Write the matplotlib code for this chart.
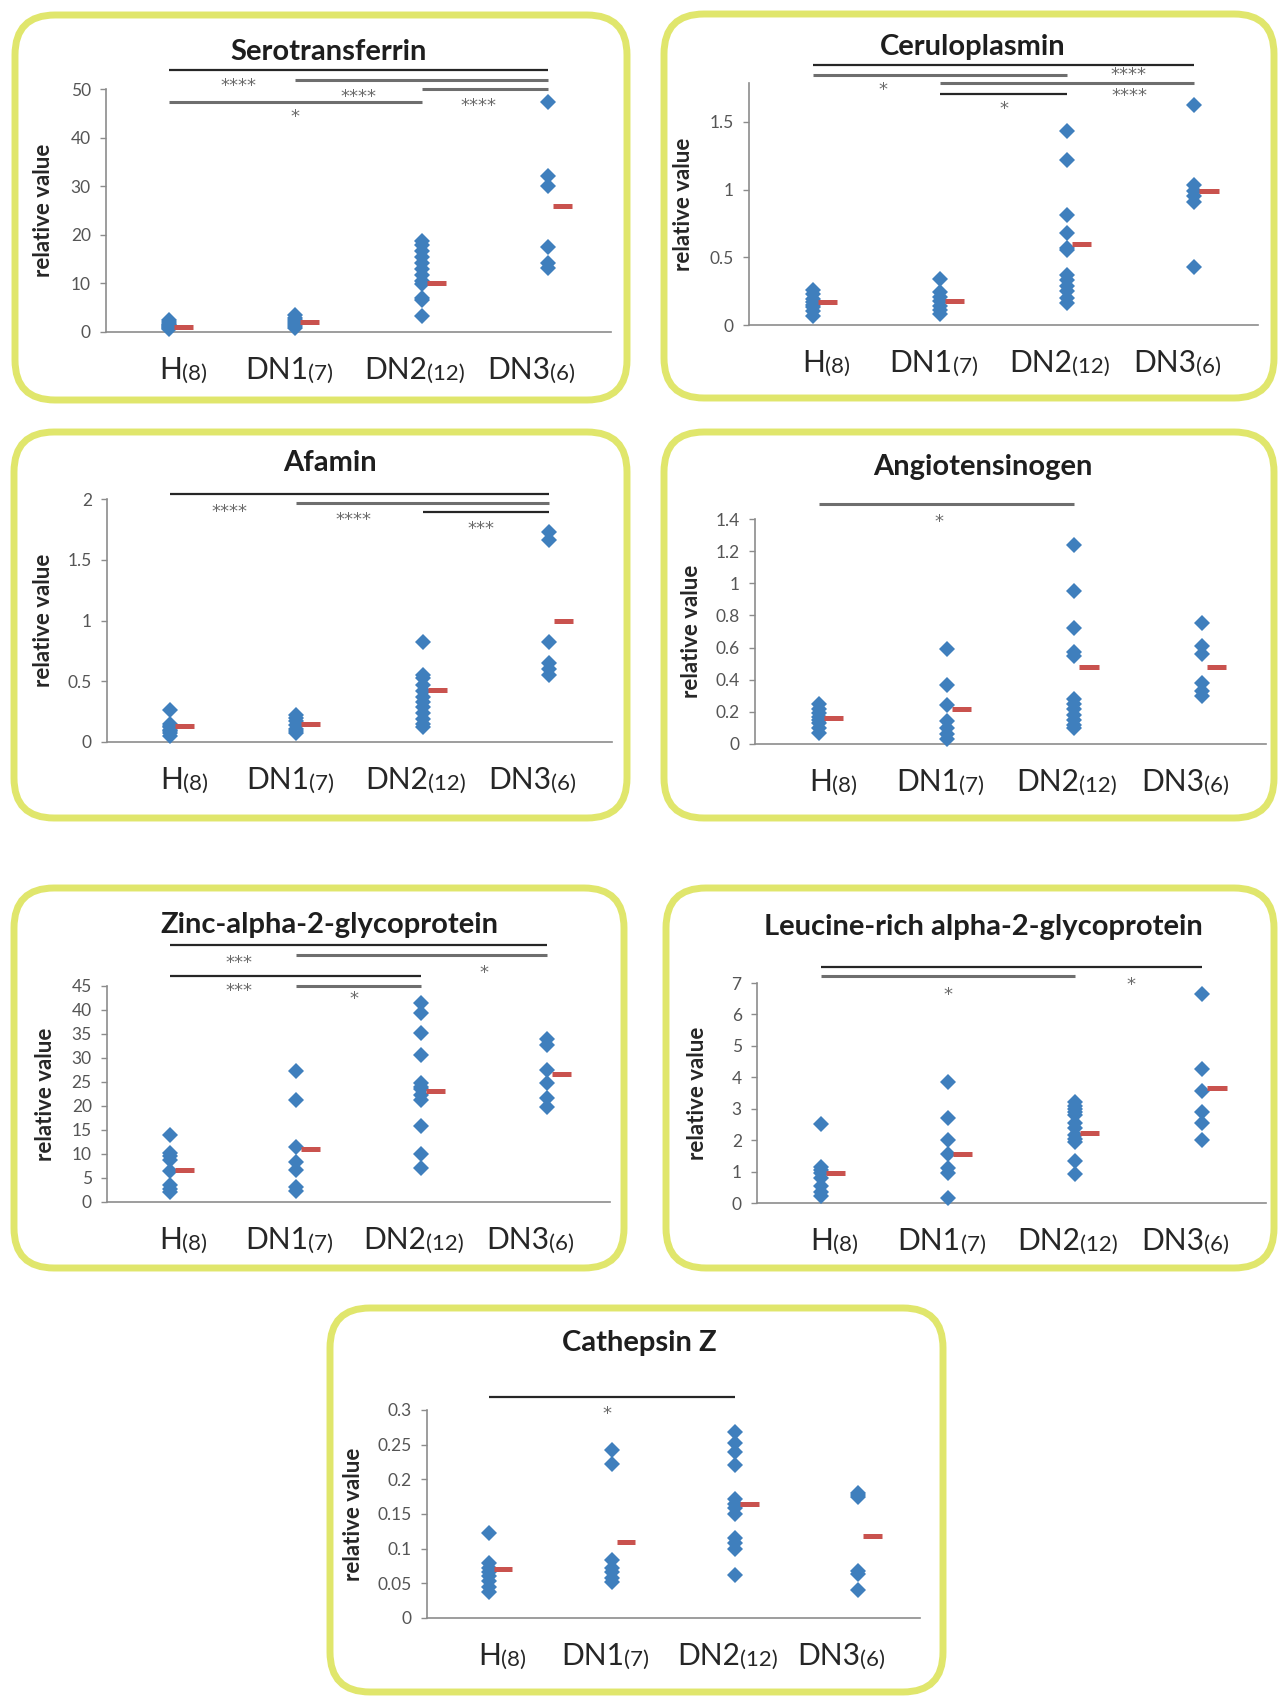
import numpy as np
import matplotlib.pyplot as plt
from matplotlib.patches import FancyBboxPatch

plt.rcParams['font.family'] = ['Lato', 'DejaVu Sans']

W, H = 1284, 1696

groups = ['H', 'DN1', 'DN2', 'DN3']
group_n = ['(8)', '(7)', '(12)', '(6)']

# values per group (H, DN1, DN2, DN3)
serotransferrin = [
    [0.7, 0.9, 1.0, 1.2, 1.4, 1.7, 2.0, 2.5],
    [0.8, 1.2, 1.6, 2.0, 2.4, 2.9, 3.5],
    [3.2, 6.5, 7.0, 9.8, 10.5, 11.8, 13.0, 14.2, 15.5, 16.6, 17.8, 18.8],
    [13.2, 14.2, 17.5, 30.0, 32.0, 47.3],
]
serotransferrin_mean = [1.1, 2.0, 10.0, 25.9]
serotransferrin_sig = [(0, 3, '****'), (1, 3, '****'), (2, 3, '****'), (0, 2, '*')]

ceruloplasmin = [
    [0.07, 0.10, 0.13, 0.15, 0.17, 0.19, 0.23, 0.26],
    [0.08, 0.11, 0.14, 0.18, 0.21, 0.24, 0.34],
    [0.16, 0.20, 0.25, 0.29, 0.33, 0.37, 0.55, 0.57, 0.68, 0.81, 1.22, 1.43],
    [0.43, 0.91, 0.95, 0.99, 1.03, 1.62],
]
ceruloplasmin_mean = [0.17, 0.18, 0.60, 0.99]
ceruloplasmin_sig = [(0, 3, '****'), (0, 2, '*'), (1, 3, '****'), (1, 2, '*')]

afamin = [
    [0.05, 0.07, 0.09, 0.10, 0.12, 0.13, 0.15, 0.26],
    [0.07, 0.09, 0.11, 0.14, 0.17, 0.20, 0.22],
    [0.12, 0.15, 0.19, 0.24, 0.29, 0.33, 0.37, 0.42, 0.47, 0.53, 0.55, 0.82],
    [0.55, 0.60, 0.65, 0.82, 1.66, 1.73],
]
afamin_mean = [0.13, 0.15, 0.43, 1.0]
afamin_sig = [(0, 3, '****'), (1, 3, '****'), (2, 3, '***')]

angiotensinogen = [
    [0.07, 0.10, 0.13, 0.15, 0.17, 0.19, 0.22, 0.25],
    [0.03, 0.06, 0.10, 0.14, 0.24, 0.37, 0.59],
    [0.10, 0.12, 0.15, 0.18, 0.22, 0.25, 0.28, 0.55, 0.57, 0.72, 0.95, 1.24],
    [0.30, 0.33, 0.38, 0.56, 0.61, 0.75],
]
angiotensinogen_mean = [0.16, 0.215, 0.48, 0.48]
angiotensinogen_sig = [(0, 2, '*')]

zinc_a2g = [
    [2.0, 2.8, 3.5, 6.5, 8.8, 9.5, 10.3, 14.0],
    [2.3, 3.1, 6.6, 8.3, 11.5, 21.3, 27.3],
    [7.0, 10.0, 15.8, 21.2, 22.3, 23.5, 24.0, 24.8, 30.6, 35.3, 39.4, 41.5],
    [19.8, 21.6, 24.7, 27.5, 32.7, 33.9],
]
zinc_a2g_mean = [6.7, 11.0, 23.2, 26.6]
zinc_a2g_sig = [(0, 3, '***'), (1, 3, '*'), (0, 2, '***'), (1, 2, '*')]

leucine_a2g = [
    [0.22, 0.35, 0.55, 0.80, 0.95, 1.05, 1.15, 2.50],
    [0.16, 0.95, 1.10, 1.55, 2.00, 2.70, 3.85],
    [0.92, 1.35, 1.95, 2.05, 2.15, 2.40, 2.55, 2.80, 2.90, 3.00, 3.10, 3.22],
    [2.00, 2.55, 2.88, 3.55, 4.27, 6.66],
]
leucine_a2g_mean = [0.97, 1.55, 2.22, 3.65]
leucine_a2g_sig = [(0, 3, '*'), (0, 2, '*')]

cathepsin_z = [
    [0.038, 0.045, 0.054, 0.060, 0.066, 0.072, 0.080, 0.123],
    [0.052, 0.058, 0.066, 0.072, 0.084, 0.222, 0.243],
    [0.062, 0.100, 0.108, 0.115, 0.150, 0.158, 0.165, 0.172, 0.220, 0.240, 0.252, 0.268],
    [0.041, 0.064, 0.068, 0.175, 0.178, 0.181],
]
cathepsin_z_mean = [0.070, 0.110, 0.164, 0.118]
cathepsin_z_sig = [(0, 2, '*')]

# layout in pixels: box, title centre, axes (left, right, top, bottom), ylabel x
# bars: (line level, star x, star y, colour) matching the *_sig lists
panels = [
    dict(title='Serotransferrin', data=serotransferrin, mean=serotransferrin_mean,
         sig=serotransferrin_sig, box=(15, 15, 627, 400), title_xy=(329, 52),
         ax_px=(106, 611, 89, 332), ylab_x=44, ytop=50, yticks=np.arange(0, 51, 10),
         bars=[(53.9, 0.55, 51.6, 'k'), (51.9, 1.5, 49.4, 'g'),
               (50.0, 2.45, 47.5, 'g'), (47.4, 1.0, 45.2, 'g')]),
    dict(title='Ceruloplasmin', data=ceruloplasmin, mean=ceruloplasmin_mean,
         sig=ceruloplasmin_sig, box=(664, 14, 1274, 398), title_xy=(973, 47),
         ax_px=(749, 1258, 83, 325), ylab_x=684, ytop=1.786, yticks=[0, 0.5, 1, 1.5],
         bars=[(1.92, 2.48, 1.88, 'k'), (1.845, 0.55, 1.77, 'g'),
               (1.786, 2.49, 1.73, 'g'), (1.705, 1.5, 1.63, 'k')]),
    dict(title='Afamin', data=afamin, mean=afamin_mean,
         sig=afamin_sig, box=(14, 432, 627, 818), title_xy=(330, 463),
         ax_px=(107, 612, 499, 742), ylab_x=44, ytop=2, yticks=[0, 0.5, 1, 1.5, 2],
         bars=[(2.044, 0.47, 1.934, 'k'), (1.967, 1.45, 1.865, 'g'),
               (1.895, 2.46, 1.796, 'k')]),
    dict(title='Angiotensinogen', data=angiotensinogen, mean=angiotensinogen_mean,
         sig=angiotensinogen_sig, box=(664, 432, 1274, 818), title_xy=(983, 467),
         ax_px=(755, 1266, 519, 744), ylab_x=692, ytop=1.4,
         yticks=[0, 0.2, 0.4, 0.6, 0.8, 1, 1.2, 1.4],
         bars=[(1.495, 0.94, 1.41, 'g')]),
    dict(title='Zinc-alpha-2-glycoprotein', data=zinc_a2g, mean=zinc_a2g_mean,
         sig=zinc_a2g_sig, box=(14, 888, 624, 1268), title_xy=(329, 925),
         ax_px=(107, 610, 986, 1202), ylab_x=45, ytop=45, yticks=np.arange(0, 46, 5),
         bars=[(53.5, 0.55, 50.8, 'k'), (51.5, 2.5, 48.7, 'g'),
               (47.1, 0.55, 45.0, 'k'), (45.1, 1.46, 43.3, 'g')]),
    dict(title='Leucine-rich alpha-2-glycoprotein', data=leucine_a2g, mean=leucine_a2g_mean,
         sig=leucine_a2g_sig, box=(666, 888, 1274, 1268), title_xy=(983, 927),
         ax_px=(757, 1266, 983, 1203), ylab_x=698, ytop=7, yticks=np.arange(0, 8, 1),
         bars=[(7.5, 2.44, 7.1, 'k'), (7.21, 1.0, 6.77, 'g')]),
    dict(title='Cathepsin Z', data=cathepsin_z, mean=cathepsin_z_mean,
         sig=cathepsin_z_sig, box=(330, 1308, 943, 1692), title_xy=(639, 1343),
         ax_px=(427, 920, 1410, 1618), ylab_x=354, ytop=0.3,
         yticks=[0, 0.05, 0.1, 0.15, 0.2, 0.25, 0.3],
         bars=[(0.319, 0.96, 0.301, 'k')]),
]

label_dx = [0.1, 0.1, 0.04, 0.015]
bar_style = {'k': dict(color='#262626', lw=1.6), 'g': dict(color='#6e6e6e', lw=2.2)}

fig = plt.figure(figsize=(W / 100, H / 100), dpi=100)
bg = fig.add_axes([0, 0, 1, 1])
bg.set_xlim(0, W)
bg.set_ylim(H, 0)
bg.axis('off')

for p in panels:
    x0, y0, x1, y1 = p['box']
    bg.add_patch(FancyBboxPatch((x0, y0), x1 - x0, y1 - y0,
                                boxstyle='round,pad=0,rounding_size=40',
                                fc='none', ec='#e0e66c', lw=5))
    bg.text(p['title_xy'][0], p['title_xy'][1], p['title'], ha='center', va='center',
            fontsize=21, fontweight='bold', color='#1e1e1e')

    l, r, t, b = p['ax_px']
    bg.text(p['ylab_x'], (t + b) / 2, 'relative value', rotation=90, ha='center',
            va='center', fontsize=16, fontweight='bold', color='#262626')

    ax = fig.add_axes([l / W, 1 - b / H, (r - l) / W, (b - t) / H])
    ax.patch.set_alpha(0)
    ax.set_xlim(-0.5, 3.5)
    ax.set_ylim(0, p['ytop'])

    for i, vals in enumerate(p['data']):
        ax.plot([i] * len(vals), vals, 'D', ms=8.4, color='#3f7fbd', mew=0,
                clip_on=False, zorder=3)
        m = p['mean'][i]
        ax.plot([i + 0.04, i + 0.19], [m, m], color='#c9524e', lw=3.6,
                solid_capstyle='butt', zorder=4)

    for (g1, g2, lab), (ly, sx, sy, c) in zip(p['sig'], p['bars']):
        ax.plot([g1, g2], [ly, ly], clip_on=False, solid_capstyle='butt', **bar_style[c])
        ax.annotate(lab, xy=(sx, sy), xytext=(0, -5), textcoords='offset pixels',
                    ha='center', va='center', fontsize=13, color='#6a6a6a',
                    family='DejaVu Sans', annotation_clip=False)

    for i in range(4):
        tmain = ax.annotate(groups[i], xy=(i + label_dx[i], 0), xytext=(0, -47),
                            textcoords='offset pixels', ha='right', va='baseline',
                            fontsize=21.5, color='#262626', annotation_clip=False)
        ax.annotate(group_n[i], xy=(1, 0), xycoords=tmain, ha='left', va='bottom',
                    fontsize=16, color='#262626', annotation_clip=False)

    ax.spines[['top', 'right']].set_visible(False)
    for s in ['left', 'bottom']:
        ax.spines[s].set_color('#8c8c8c')
        ax.spines[s].set_linewidth(1.2)
    ax.set_xticks([])
    ax.set_yticks(p['yticks'])
    ax.set_yticklabels(['%g' % v for v in p['yticks']])
    ax.tick_params(axis='y', length=4, width=1, color='#8c8c8c', labelsize=12.5,
                   labelcolor='#555555', pad=7)

fig.savefig('out.png', dpi=100, facecolor='white')
